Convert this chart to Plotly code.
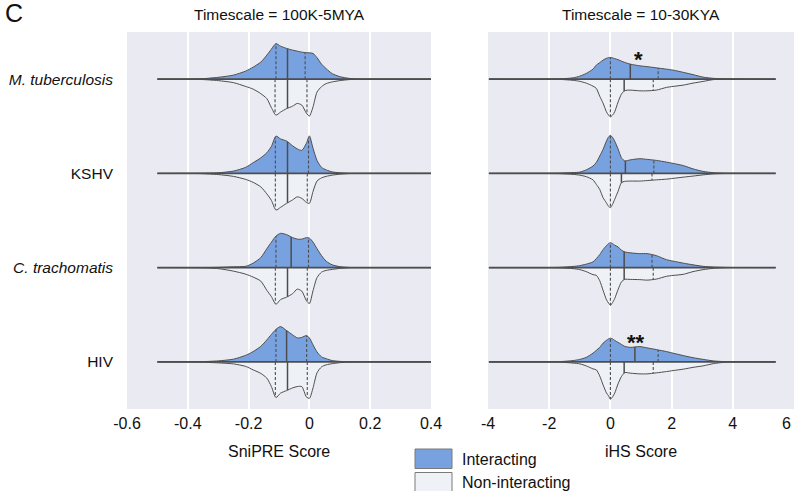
import numpy as np
import plotly.graph_objects as go

# ---------------- data ----------------
CATEGORIES = ["<i>M. tuberculosis</i>", "KSHV", "<i>C. trachomatis</i>", "HIV"]
PANEL_TITLES = ["Timescale = 100K-5MYA", "Timescale = 10-30KYA"]
AXIS_TITLES = ["SniPRE Score", "iHS Score"]
LEFT_TICKS = [-0.6, -0.4, -0.2, 0, 0.2, 0.4]
LEFT_TICKTEXT = ["-0.6", "-0.4", "-0.2", "0", "0.2", "0.4"]
RIGHT_TICKS = [-4, -2, 0, 2, 4, 6]
RIGHT_TICKTEXT = ["-4", "-2", "0", "2", "4", "6"]
LEGEND_LABELS = ["Interacting", "Non-interacting"]

# data extent (horizontal line)
SNIPRE_EXTENT = [-0.50, 0.45]
IHS_EXTENT = [-3.97, 5.40]

# SniPRE density grid and density heights (relative units) per category
SNIPRE_X = [-0.50, -0.36, -0.30, -0.25, -0.21, -0.185, -0.16, -0.14, -0.125, -0.11, -0.095,
            -0.075, -0.055, -0.04, -0.025, -0.01, 0.0, 0.012, 0.025, 0.04, 0.055, 0.075,
            0.10, 0.13, 0.16, 0.45]
SNIPRE_INT = [
    [0, 0.3, 1.8, 4, 8, 12, 17, 24, 30, 35.5, 33, 30.7, 29, 28, 27, 26.5, 26.3, 25.7, 21.5, 15, 10.5, 5.5, 2.5, 0.8, 0, 0],
    [0, 0.2, 0.6, 2.3, 6, 10.7, 15.5, 20.7, 27, 37.3, 34.5, 32.3, 27.5, 24.5, 23, 30, 37.5, 25, 13, 6, 3.5, 1.5, 0.6, 0.1, 0, 0],
    [0, 0, 0.3, 0.8, 1.3, 4.5, 10, 19, 25.5, 31.5, 34.3, 33, 30, 28.5, 28.5, 30, 29.5, 25.5, 19, 12, 6.5, 2.8, 1, 0.2, 0, 0],
    [0, 0.2, 1, 2.7, 6.5, 10.3, 15.5, 22, 27.5, 32.5, 35.3, 31.3, 27, 24, 24.5, 26.3, 24, 17, 10, 5, 3.2, 1.3, 0.5, 0.1, 0, 0],
]
SNIPRE_NON = [
    [0, 0.3, 1.5, 3.5, 7.3, 10, 14.5, 19.5, 28.5, 36, 33, 29.5, 27, 24.3, 26, 34, 37, 27.7, 13, 7.5, 4.5, 2.8, 1.5, 0.5, 0, 0],
    [0, 0.2, 1.2, 3, 6, 9, 13.5, 20.5, 27, 36.7, 34, 30, 26.5, 23.5, 25, 29, 30, 18, 7.7, 4.5, 3, 1.8, 0.8, 0.2, 0, 0],
    [0, 0.2, 1, 3.5, 6.5, 9.5, 13.5, 22.7, 29, 36.7, 32, 29.5, 26, 21.5, 23.5, 33, 36, 23, 10, 4.5, 2.8, 1.8, 0.8, 0.2, 0, 0],
    [0, 0.3, 1, 2, 4.5, 8, 11.5, 16.3, 24.7, 35.7, 31.3, 28.7, 26, 24.7, 24.7, 35, 36.5, 26, 11, 5, 3, 1.8, 0.8, 0.2, 0, 0],
]
SNIPRE_INT_MEDIAN = [-0.072, -0.072, -0.060, -0.075]
SNIPRE_INT_Q1 = [-0.110, -0.112, -0.110, -0.110]
SNIPRE_INT_Q3 = [-0.014, -0.003, -0.003, -0.009]
SNIPRE_NON_MEDIAN = [-0.072, -0.072, -0.072, -0.072]
SNIPRE_NON_Q1 = [-0.113, -0.112, -0.112, -0.112]
SNIPRE_NON_Q3 = [-0.008, -0.007, -0.007, -0.007]

# iHS density grid and heights
IHS_X = [-3.97, -1.66, -1.22, -1.0, -0.79, -0.57, -0.46, -0.35, -0.24, -0.13, -0.06, 0.0, 0.07,
         0.14, 0.25, 0.36, 0.47, 0.65, 0.96, 1.2, 1.5, 1.83, 2.05, 2.38, 2.7, 3.03, 3.36, 3.69,
         4.0, 5.4]
IHS_INT = [
    [0, 0.3, 1.3, 3, 5.7, 10, 14, 16.5, 19, 20.8, 21.5, 21.7, 21.3, 20.5, 19.5, 18, 16.7, 15, 13.3, 12.5, 11.3, 10, 9, 6.8, 4.5, 2, 0.8, 0.3, 0.1, 0],
    [0, 0.3, 0.8, 1.3, 3.5, 7.3, 11, 17.3, 24, 32.3, 36.5, 38, 36, 32.3, 24.5, 15.7, 12.5, 13.5, 14.7, 14, 13, 11.3, 10, 7.8, 4.5, 2, 0.7, 0.3, 0.1, 0],
    [0, 0.3, 1.2, 2, 3.5, 5.7, 9, 13, 18, 22, 24, 25, 24, 22.5, 20.7, 17.5, 15.7, 14.8, 14, 14, 12, 8, 6.5, 4.5, 2.8, 1.3, 0.6, 0.3, 0.1, 0],
    [0, 0.3, 1.3, 2.5, 4.5, 8.7, 11.5, 14.5, 18.7, 21.5, 23, 23.7, 23, 21.5, 19.5, 17.5, 15.5, 14.5, 15.3, 14, 12.3, 10.3, 8.7, 6.3, 4.2, 2.5, 1, 0.3, 0.1, 0],
]
IHS_NON = [
    [0, 0.3, 1.2, 2.2, 4, 7, 9.3, 17, 24, 32.7, 36, 37.7, 36, 32.7, 23, 15, 11.5, 11, 11.7, 11.7, 11, 8.3, 7.3, 6, 4, 2.3, 0.5, 0.2, 0, 0],
    [0, 0.3, 1, 1.8, 3.3, 6.5, 11, 16, 24.3, 29.5, 33, 34.3, 31, 26, 18, 9.3, 8, 7.7, 7.7, 7.2, 6.5, 5.8, 5, 3.8, 2.7, 1.5, 0.5, 0.2, 0, 0],
    [0, 0.3, 1, 2, 4, 7, 7.7, 13, 22.7, 32, 35.5, 37.7, 35, 31, 22, 14.3, 11.7, 11.8, 12, 12.5, 11.5, 8.7, 7.8, 6.7, 4, 2, 0.7, 0.2, 0, 0],
    [0, 0.3, 1.2, 2, 4, 7, 8, 14, 23, 31, 34, 37.3, 35, 31.3, 22, 14.7, 10.7, 11.3, 12, 12, 11, 9.7, 8.7, 7.3, 5.5, 4, 1.8, 0.5, 0.1, 0],
]
IHS_INT_MEDIAN = [0.65, 0.49, 0.45, 0.80]
IHS_INT_Q1 = [0.0, 0.0, 0.0, 0.0]
IHS_INT_Q3 = [1.56, 1.42, 1.36, 1.56]
IHS_NON_MEDIAN = [0.45, 0.36, 0.45, 0.45]
IHS_NON_Q1 = [0.0, 0.0, 0.0, 0.0]
IHS_NON_Q3 = [1.40, 1.36, 1.40, 1.40]

# significance marks: (category index, x position, label)
SIG_CATEGORY = [0, 3]
SIG_X = [0.93, 0.83]
SIG_TEXT = ["*", "**"]

# ---------------- style ----------------
INT_COLOR = "#78A1E0"
NON_COLOR = "#EEF1F6"
EDGE = "#4d4d4d"
BG = "#EAEAF2"
FONT = "Liberation Sans, Arial, sans-serif"
HSCALE = 1 / 94.3   # density units -> category units

fig = go.Figure()


def add_panel(xref, yref, grid, ints, nons, extent, stats_int, stats_non):
    grid = np.asarray(grid, dtype=float)
    for i in range(len(CATEGORIES)):
        hi = np.asarray(ints[i], dtype=float) * HSCALE
        hn = np.asarray(nons[i], dtype=float) * HSCALE
        fig.add_trace(go.Scatter(x=grid, y=i - hi, xaxis=xref, yaxis=yref, mode="lines",
                                 fill="toself", fillcolor=INT_COLOR,
                                 line=dict(color=EDGE, width=1, shape="spline", smoothing=0.7),
                                 hoverinfo="skip", showlegend=False))
        fig.add_trace(go.Scatter(x=grid, y=i + hn, xaxis=xref, yaxis=yref, mode="lines",
                                 fill="toself", fillcolor=NON_COLOR,
                                 line=dict(color=EDGE, width=1, shape="spline", smoothing=0.7),
                                 hoverinfo="skip", showlegend=False))
        for (med, q1, q3), h, sign in ((stats_int, hi, -1), (stats_non, hn, 1)):
            for val, dash, w in ((q1[i], "3px,2px", 1.1), (q3[i], "3px,2px", 1.1), (med[i], "solid", 1.5)):
                top = float(np.interp(val, grid, h))
                fig.add_trace(go.Scatter(x=[val, val], y=[i, i + sign * top], xaxis=xref, yaxis=yref,
                                         mode="lines", line=dict(color=EDGE, width=w, dash=dash),
                                         hoverinfo="skip", showlegend=False))
        fig.add_trace(go.Scatter(x=extent, y=[i, i], xaxis=xref, yaxis=yref, mode="lines",
                                 line=dict(color=EDGE, width=1.6), hoverinfo="skip", showlegend=False))


add_panel("x", "y", SNIPRE_X, SNIPRE_INT, SNIPRE_NON, SNIPRE_EXTENT,
          (SNIPRE_INT_MEDIAN, SNIPRE_INT_Q1, SNIPRE_INT_Q3),
          (SNIPRE_NON_MEDIAN, SNIPRE_NON_Q1, SNIPRE_NON_Q3))
add_panel("x2", "y2", IHS_X, IHS_INT, IHS_NON, IHS_EXTENT,
          (IHS_INT_MEDIAN, IHS_INT_Q1, IHS_INT_Q3),
          (IHS_NON_MEDIAN, IHS_NON_Q1, IHS_NON_Q3))

W, H = 794, 491
T, B = 32, 82
plot_h = H - T - B


def py(pix):  # pixel row -> paper y
    return (H - B - pix) / plot_h


xcommon = dict(showgrid=True, gridcolor="white", gridwidth=1.5, zeroline=False, showline=False,
               ticks="", tickfont=dict(size=16, color="#111"), ticklabelstandoff=3,
               fixedrange=True, automargin=False)
ycommon = dict(range=[3.5, -0.5], showgrid=False, zeroline=False, showline=False, ticks="",
               tickvals=list(range(len(CATEGORIES))),
               tickfont=dict(size=15.5, color="#111"), fixedrange=True, automargin=False)

# last right-hand tick label sits at the page edge: drawn right-aligned as an annotation
right_ticktext = RIGHT_TICKTEXT[:-1] + [""]

fig.update_layout(
    width=W, height=H,
    margin=dict(l=0, r=0, t=T, b=B, autoexpand=False),
    paper_bgcolor="white", plot_bgcolor=BG,
    font=dict(family=FONT, color="#111"),
    xaxis=dict(domain=[127 / W, 431 / W], range=[-0.6, 0.4], tickvals=LEFT_TICKS,
               ticktext=LEFT_TICKTEXT, anchor="y", **xcommon),
    xaxis2=dict(domain=[488 / W, 1.0], range=[-4, 6], tickvals=RIGHT_TICKS,
                ticktext=right_ticktext, anchor="y2", **xcommon),
    yaxis=dict(domain=[0, 1], anchor="x", ticklabelstandoff=13, ticktext=CATEGORIES, **ycommon),
    yaxis2=dict(domain=[0, 1], anchor="x2", showticklabels=False, **ycommon),
    showlegend=False,
)

ann = []
ann.append(dict(text="C", x=0.004, y=py(13), xref="paper", yref="paper", xanchor="left",
                yanchor="middle", showarrow=False, font=dict(size=25)))
ann.append(dict(text=RIGHT_TICKTEXT[-1], x=RIGHT_TICKS[-1], y=py(423.5), xref="x2", yref="paper",
                xanchor="right", yanchor="middle", xshift=-1, showarrow=False, font=dict(size=16)))
for k, xc in enumerate([279 / W, 641 / W]):
    ann.append(dict(text=PANEL_TITLES[k], x=xc, y=py(15), xref="paper", yref="paper",
                    xanchor="center", yanchor="middle", showarrow=False, font=dict(size=15.5)))
    ann.append(dict(text=AXIS_TITLES[k], x=xc, y=py(451), xref="paper", yref="paper",
                    xanchor="center", yanchor="middle", showarrow=False, font=dict(size=16)))
for c, xv, t in zip(SIG_CATEGORY, SIG_X, SIG_TEXT):
    ann.append(dict(text="<b>%s</b>" % t, x=xv, y=c - 0.21, xref="x2", yref="y2",
                    xanchor="center", yanchor="middle", showarrow=False, font=dict(size=22, color="#111")))
ann.append(dict(text=LEGEND_LABELS[0], x=460 / W, y=py(459), xref="paper", yref="paper",
                xanchor="left", yanchor="middle", showarrow=False, font=dict(size=16)))
ann.append(dict(text=LEGEND_LABELS[1], x=460 / W, y=py(482), xref="paper", yref="paper",
                xanchor="left", yanchor="middle", showarrow=False, font=dict(size=16)))
fig.update_layout(annotations=ann)

fig.add_shape(type="rect", xref="paper", yref="paper", x0=415 / W, x1=452 / W, y0=py(468.5), y1=py(449),
              fillcolor=INT_COLOR, line=dict(color="#7a7a7a", width=1))
fig.add_shape(type="rect", xref="paper", yref="paper", x0=415 / W, x1=452 / W, y0=py(495), y1=py(472.5),
              fillcolor=NON_COLOR, line=dict(color="#7a7a7a", width=1))

fig.write_html("out.html", config={"displayModeBar": False},
               post_script="document.body.style.margin='0';document.body.style.overflow='hidden';")
